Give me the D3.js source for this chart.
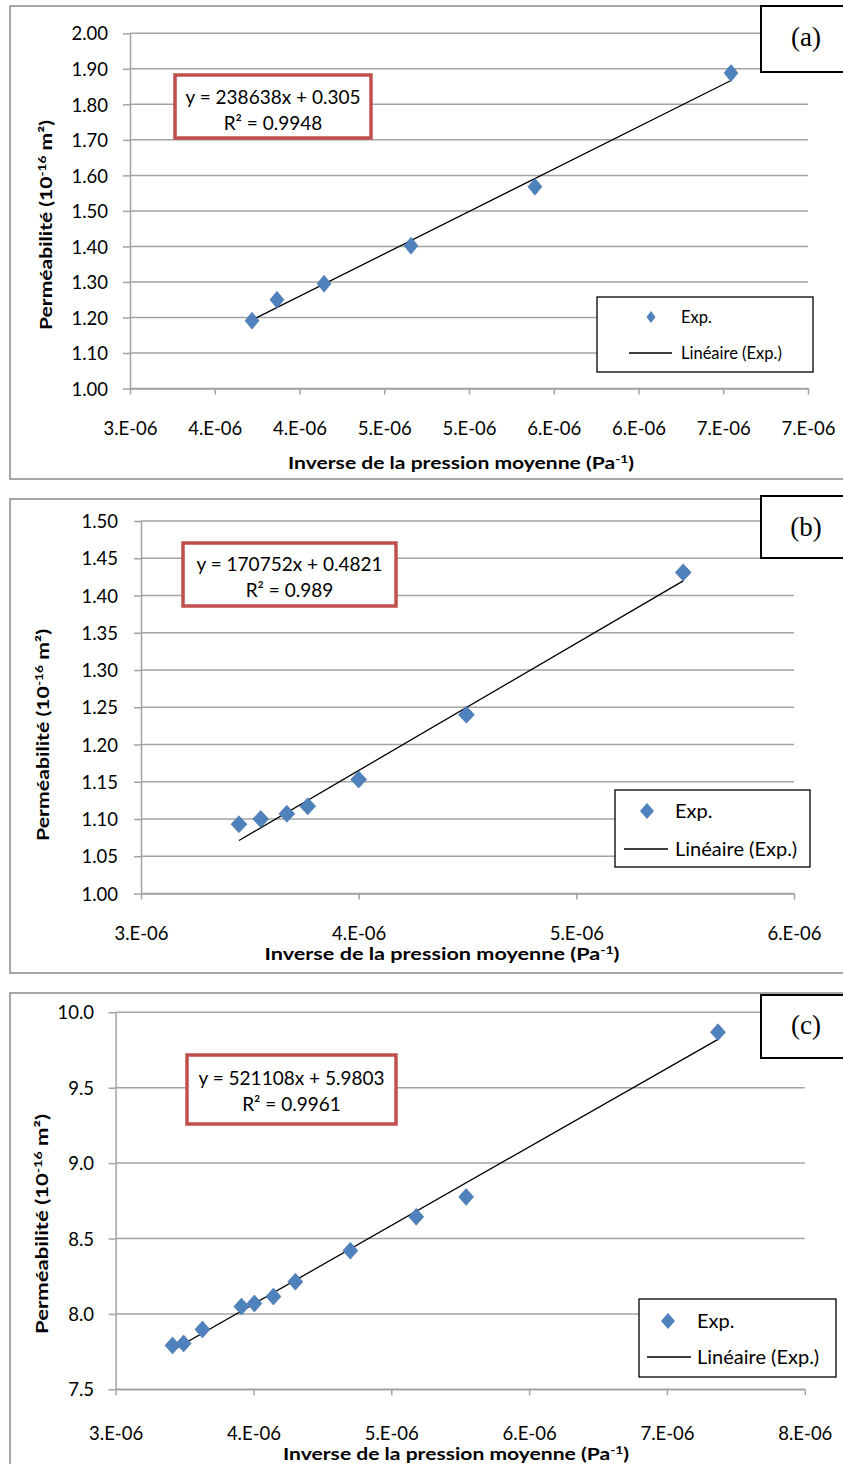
<!DOCTYPE html>
<html><head><meta charset="utf-8">
<script src="https://cdn.jsdelivr.net/npm/d3@7"></script>
<style>body{margin:0;background:#fff} svg{display:block}</style>
</head><body>
<svg id="chart" width="843" height="1464"></svg>
<script>
// ---------------- data ----------------
const panelNames = ["(a)", "(b)", "(c)"];

// Panel (a)
const xA = [3.72e-6, 3.867e-6, 4.145e-6, 4.658e-6, 5.389e-6, 6.546e-6];
const yA = [1.191, 1.250, 1.295, 1.402, 1.568, 1.888];
// Panel (b)
const xB = [3.450e-6, 3.550e-6, 3.670e-6, 3.766e-6, 4.000e-6, 4.495e-6, 5.491e-6];
const yB = [1.093, 1.100, 1.107, 1.117, 1.153, 1.240, 1.431];
// Panel (c)
const xC = [3.413e-6, 3.493e-6, 3.630e-6, 3.913e-6, 4.007e-6, 4.145e-6, 4.304e-6, 4.703e-6, 5.181e-6, 5.543e-6, 7.370e-6];
const yC = [7.791, 7.804, 7.897, 8.049, 8.069, 8.115, 8.214, 8.419, 8.644, 8.776, 9.868];

// Linear fits (as printed on the chart)
const slopes = [238638, 170752, 521108];
const intercepts = [0.305, 0.4821, 5.9803];
const equationLabels = ["y = 238638x + 0.305", "y = 170752x + 0.4821", "y = 521108x + 5.9803"];
const r2Labels = ["R² = 0.9948", "R² = 0.989", "R² = 0.9961"];

// Ticks
const xTicksA = [3.0e-6, 3.5e-6, 4.0e-6, 4.5e-6, 5.0e-6, 5.5e-6, 6.0e-6, 6.5e-6, 7.0e-6];
const xTickLabelsA = ["3.E-06", "4.E-06", "4.E-06", "5.E-06", "5.E-06", "6.E-06", "6.E-06", "7.E-06", "7.E-06"];
const yTicksA = [1.0, 1.1, 1.2, 1.3, 1.4, 1.5, 1.6, 1.7, 1.8, 1.9, 2.0];
const xTicksB = [3e-6, 4e-6, 5e-6, 6e-6];
const xTickLabelsB = ["3.E-06", "4.E-06", "5.E-06", "6.E-06"];
const yTicksB = [1.00, 1.05, 1.10, 1.15, 1.20, 1.25, 1.30, 1.35, 1.40, 1.45, 1.50];
const xTicksC = [3e-6, 4e-6, 5e-6, 6e-6, 7e-6, 8e-6];
const xTickLabelsC = ["3.E-06", "4.E-06", "5.E-06", "6.E-06", "7.E-06", "8.E-06"];
const yTicksC = [7.5, 8.0, 8.5, 9.0, 9.5, 10.0];
const yFormats = [".2f", ".2f", ".1f"];

const legendLabels = ["Exp.", "Linéaire (Exp.)"];
const xTitleMain = "Inverse de la pression moyenne (Pa";
const xTitleSup = "-1";
const yTitleMain = "Perméabilité (10";
const yTitleSup = "-16";
const yTitleEnd = " m²)";

// ---------------- layout ----------------
const layouts = [
  {frame:[10,6,850,473], px:[130,808], py:[33.3,388.5], xLabY:435, xTitleY:469, xTitleX:461, xTitleLen:346,
   yLabX:108, yTitleX:52, yTitleY:225, yTitleLen:210,
   eq:[175,75,196,63], eqY:[104,130], eqFs:19,
   legend:[597,297,216,75], legRows:[317,353], legMarkX:651, legLine:[629,672], legTextX:681, legFs:16.5, legDia:[4.5,6],
   tag:[761,6,90,66], tagY:46, dia:[7,8.5], fs:18.5},
  {frame:[10,499,850,474], px:[141,794], py:[521,893.5], xLabY:940, xTitleY:960, xTitleX:442, xTitleLen:355,
   yLabX:118, yTitleX:49, yTitleY:735, yTitleLen:212,
   eq:[183,543,213,63], eqY:[571,597], eqFs:19,
   legend:[615,790,195,77], legRows:[811,849], legMarkX:647, legLine:[624,668], legTextX:675, legFs:20, legDia:[7,8],
   tag:[761,496,90,62], tagY:536, dia:[8,8.5], fs:18.5},
  {frame:[10,993,850,480], px:[115.6,804.8], py:[1012.3,1389.3], xLabY:1440, xTitleY:1460, xTitleX:456, xTitleLen:346,
   yLabX:94, yTitleX:48, yTitleY:1224, yTitleLen:220,
   eq:[187,1055,209,69], eqY:[1085,1111], eqFs:19,
   legend:[639,1299,197,78], legRows:[1321,1357], legMarkX:668, legLine:[647,691], legTextX:697, legFs:20, legDia:[7,8],
   tag:[761,995,90,63], tagY:1034, dia:[7.5,8.5], fs:18.5}
];

const panels = [
  {xs:xA, ys:yA, xTicks:xTicksA, xLabels:xTickLabelsA, yTicks:yTicksA},
  {xs:xB, ys:yB, xTicks:xTicksB, xLabels:xTickLabelsB, yTicks:yTicksB},
  {xs:xC, ys:yC, xTicks:xTicksC, xLabels:xTickLabelsC, yTicks:yTicksC}
];

const FONT = "Lato, 'Open Sans', sans-serif";
const GRID = "#a3a3a3";
const BLUE = "#4F81BD";
const RED = "#C0504D";

const svg = d3.select("#chart");
svg.append("rect").attr("width",843).attr("height",1464).attr("fill","#fff");

function diamond(w,h){ return `M0,${-h}L${w},0L0,${h}L${-w},0Z`; }

panels.forEach((p, i) => {
  const L = layouts[i];
  const g = svg.append("g");
  // outer frame
  g.append("rect").attr("x",L.frame[0]).attr("y",L.frame[1]).attr("width",L.frame[2]).attr("height",L.frame[3])
    .attr("fill","#fff").attr("stroke","#8a8a8a").attr("stroke-width",1.5);

  const x = d3.scaleLinear().domain([p.xTicks[0], p.xTicks[p.xTicks.length-1]]).range(L.px);
  const y = d3.scaleLinear().domain([p.yTicks[0], p.yTicks[p.yTicks.length-1]]).range([L.py[1], L.py[0]]);

  // gridlines
  g.append("g").selectAll("line").data(p.yTicks).join("line")
    .attr("x1",L.px[0]).attr("x2",L.px[1]).attr("y1",d=>y(d)).attr("y2",d=>y(d))
    .attr("stroke",GRID).attr("stroke-width",1.5);

  // y axis
  const fmt = d3.format(yFormats[i]);
  const ya = g.append("g").attr("transform",`translate(${L.px[0]},0)`)
    .call(d3.axisLeft(y).tickValues(p.yTicks).tickFormat(fmt).tickSize(7).tickSizeOuter(0));
  ya.select(".domain").attr("stroke",GRID).attr("stroke-width",1.5);
  ya.selectAll(".tick line").attr("stroke",GRID).attr("stroke-width",1.5);
  ya.selectAll(".tick text").attr("x", L.yLabX - L.px[0]).attr("dy","0.36em")
    .attr("font-family",FONT).attr("font-size",L.fs).attr("fill","#000").attr("text-anchor","end");

  // x axis
  const xa = g.append("g").attr("transform",`translate(0,${L.py[1]})`)
    .call(d3.axisBottom(x).tickValues(p.xTicks).tickFormat((d,k)=>p.xLabels[k]).tickSize(6).tickSizeOuter(0));
  xa.select(".domain").attr("stroke",GRID).attr("stroke-width",1.5);
  xa.selectAll(".tick line").attr("stroke",GRID).attr("stroke-width",1.5);
  xa.selectAll(".tick text").attr("y", L.xLabY - L.py[1]).attr("dy",null)
    .attr("font-family",FONT).attr("font-size",L.fs).attr("fill","#000");

  // trend line
  const ext = d3.extent(p.xs);
  g.append("path").datum(ext)
    .attr("d", d3.line().x(d=>x(d)).y(d=>y(slopes[i]*d + intercepts[i])))
    .attr("stroke","#000").attr("stroke-width",1.3).attr("fill","none");

  // points
  g.append("g").selectAll("path").data(p.xs).join("path")
    .attr("d", diamond(L.dia[0], L.dia[1]))
    .attr("transform",(d,k)=>`translate(${x(d)},${y(p.ys[k])})`)
    .attr("fill",BLUE).attr("stroke","#4473ad").attr("stroke-width",0.6);

  // equation box
  g.append("rect").attr("x",L.eq[0]).attr("y",L.eq[1]).attr("width",L.eq[2]).attr("height",L.eq[3])
    .attr("fill","#fff").attr("stroke",RED).attr("stroke-width",3.5);
  const cx = L.eq[0] + L.eq[2]/2;
  g.append("text").attr("x",cx).attr("y",L.eqY[0]).attr("text-anchor","middle")
    .attr("font-family",FONT).attr("font-size",L.eqFs).text(equationLabels[i]);
  g.append("text").attr("x",cx).attr("y",L.eqY[1]).attr("text-anchor","middle")
    .attr("font-family",FONT).attr("font-size",L.eqFs).text(r2Labels[i]);

  // legend
  g.append("rect").attr("x",L.legend[0]).attr("y",L.legend[1]).attr("width",L.legend[2]).attr("height",L.legend[3])
    .attr("fill","#fff").attr("stroke","#000").attr("stroke-width",1.3);
  g.append("path").attr("d",diamond(L.legDia[0],L.legDia[1]))
    .attr("transform",`translate(${L.legMarkX},${L.legRows[0]})`).attr("fill",BLUE);
  g.append("line").attr("x1",L.legLine[0]).attr("x2",L.legLine[1]).attr("y1",L.legRows[1]).attr("y2",L.legRows[1])
    .attr("stroke","#000").attr("stroke-width",1.5);
  legendLabels.forEach((t,k)=>{
    g.append("text").attr("x",L.legTextX).attr("y",L.legRows[k]).attr("dy","0.36em")
      .attr("font-family",FONT).attr("font-size",L.legFs).text(t);
  });

  // panel tag box
  g.append("rect").attr("x",L.tag[0]).attr("y",L.tag[1]).attr("width",L.tag[2]).attr("height",L.tag[3])
    .attr("fill","#fff").attr("stroke","#000").attr("stroke-width",2);
  g.append("text").attr("x",806).attr("y",L.tagY).attr("text-anchor","middle")
    .attr("font-family","'Liberation Serif', 'DejaVu Serif', serif").attr("font-size",27).text(panelNames[i]);

  // x title
  const xt = g.append("text").attr("x",L.xTitleX).attr("y",L.xTitleY).attr("text-anchor","middle")
    .attr("font-family",FONT).attr("font-weight","bold").attr("font-size",17)
    .attr("textLength",L.xTitleLen).attr("lengthAdjust","spacingAndGlyphs");
  xt.append("tspan").text(xTitleMain);
  xt.append("tspan").attr("baseline-shift","super").attr("font-size",11).text(xTitleSup);
  xt.append("tspan").text(")");

  // y title
  const yt = g.append("text").attr("transform",`translate(${L.yTitleX},${L.yTitleY}) rotate(-90)`)
    .attr("text-anchor","middle").attr("font-family",FONT).attr("font-weight","bold").attr("font-size",17)
    .attr("textLength",L.yTitleLen).attr("lengthAdjust","spacingAndGlyphs");
  yt.append("tspan").text(yTitleMain);
  yt.append("tspan").attr("baseline-shift","super").attr("font-size",11).text(yTitleSup);
  yt.append("tspan").text(yTitleEnd);
});
</script>
</body></html>
